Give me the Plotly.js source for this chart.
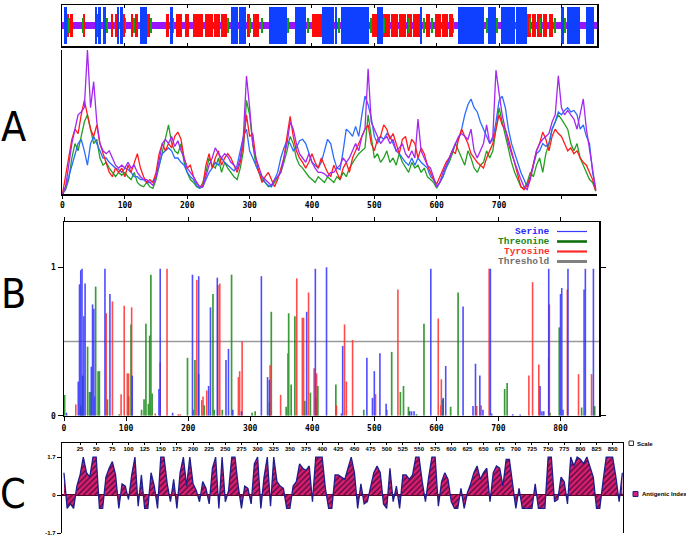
<!DOCTYPE html>
<html><head><meta charset="utf-8">
<script src="https://cdn.plot.ly/plotly-3.0.1.min.js"></script>
<style>html,body{margin:0;padding:0;background:#fff}#chart{width:686px;height:540px}</style>
</head><body><div id="chart"></div>
<script>
// ---------- Panel A: secondary structure strip (residue ranges) ----------
const seqLength = 857;
const helixSeg = [[3,6],[53,55],[58,61],[65,70],[88,90],[93,96],[124,135],[173,176],[271,281],[283,294],[332,359],[373,390],[416,435],[437,440],[447,491],[504,514],[574,576],[635,675],[682,694],[703,725],[728,744],[800,803],[809,829],[840,851]];
const strandSeg = [[8,10],[13,16],[34,36],[54,58],[78,81],[84,88],[94,100],[110,113],[116,120],[135,140],[167,170],[182,191],[197,202],[210,224],[229,240],[243,252],[255,263],[296,300],[306,314],[401,416],[496,503],[515,525],[528,537],[540,550],[553,560],[563,572],[583,589],[597,606],[609,617],[620,626],[744,750],[753,758],[762,768],[771,777],[780,786]];
const turnPos = [11,33,60,72,101,115,142,177,265,301,320,342,361,393,443,494,516,556,580,592,627,680,697,749,766,790,806];

// ---------- Panel A: score profiles (every 5 residues) ----------
const aStep = 5;
const helixScore = [
0,5,12,20,28,35,38,30,20,35,
40,35,30,25,25,22,20,18,17,15,
18,17,15,12,12,10,10,8,8,9,
12,20,28,30,32,30,25,25,22,20,
15,12,10,6,4,5,10,15,18,22,
20,25,22,20,18,16,20,30,40,45,
30,25,20,15,12,8,6,5,10,15,
25,32,37,35,30,32,37,38,35,28,
22,20,18,22,30,38,35,25,18,17,
30,45,43,40,47,40,55,68,62,53,
40,35,40,38,42,40,35,30,28,25,
22,20,25,20,25,22,20,18,12,10,
5,8,12,18,25,30,35,38,45,55,
62,66,60,57,50,45,40,35,38,50,
65,68,60,45,35,28,22,15,10,5,
12,20,28,30,35,33,35,45,50,57,
55,58,60,57,58,55,45,48,40,35,
15,3];
const strandScore = [
0,12,25,38,45,42,55,65,55,45,
40,48,35,28,22,15,12,18,15,18,
12,20,15,22,28,18,12,8,10,8,
15,28,35,30,35,32,40,43,38,25,
18,20,12,8,5,6,20,28,18,25,
30,20,25,28,25,20,15,22,35,55,
40,42,25,15,8,12,15,10,5,10,
18,25,40,54,40,30,25,22,18,22,
28,22,18,25,20,15,12,20,15,10,
18,22,15,25,30,35,40,45,48,35,
30,38,40,48,45,38,42,35,28,38,
40,30,38,35,25,32,28,20,15,10,
7,12,18,22,25,30,28,38,45,40,
35,28,25,22,20,18,25,30,35,45,
55,48,45,38,30,22,12,5,3,6,
12,22,30,35,43,38,30,40,45,42,
40,35,30,32,28,30,25,22,20,15,
10,2];
const turnScore = [
0,3,10,25,35,30,40,50,55,45,
35,38,25,20,22,18,15,12,15,13,
15,12,10,15,8,6,5,8,5,4,
10,20,30,40,48,35,30,28,35,22,
15,10,8,5,4,8,15,25,20,18,
25,15,22,18,15,12,10,18,30,65,
55,35,20,15,10,8,5,6,8,12,
15,22,30,40,35,25,20,18,15,12,
10,8,12,10,8,12,10,8,12,10,
15,12,18,22,25,28,30,32,55,40,
25,28,22,25,30,22,25,20,28,22,
18,15,22,18,20,15,18,12,10,8,
4,8,12,18,22,28,35,30,25,20,
30,25,18,15,20,22,30,25,30,45,
60,50,40,30,22,15,10,5,4,8,
15,12,20,25,15,28,35,45,50,55,
52,48,45,35,30,35,25,20,15,10,
8,2];
const coilScore = [
0,5,20,35,45,55,57,60,100,60,
78,50,35,30,28,30,25,20,18,20,
18,22,18,20,15,12,10,10,8,6,
12,25,35,38,35,40,33,37,30,25,
18,15,12,8,5,5,12,20,25,32,
28,25,28,26,22,20,17,25,40,82,
60,35,25,18,12,10,8,6,10,12,
15,25,35,50,45,35,28,25,22,28,
22,18,15,15,14,12,15,15,18,20,
25,22,25,30,35,30,40,45,87,50,
45,40,35,38,40,35,38,30,32,35,
28,25,30,25,52,30,25,20,18,12,
5,8,15,20,25,30,35,40,42,40,
38,45,30,25,30,35,48,35,40,86,
70,55,45,35,28,22,15,10,5,3,
10,20,30,35,38,40,42,50,55,82,
60,55,58,55,52,45,55,66,45,30,
15,3];
const aTickVals = [0,100,200,300,400,500,600,700,800];
const aTickText = ['0','100','200','300','400','500','600','700',''];

// ---------- Panel B: phosphorylation site scores ----------
const serinePos = [4,23,25,27,29,31,32,34,44,46,48,49,66,74,110,153,155,175,207,208,217,233,236,247,261,265,272,286,318,328,331,391,405,423,447,449,488,497,500,509,519,520,557,560,564,591,611,615,643,659,663,670,675,687,689,723,735,767,770,773,781,800,802,804,812,838,840,853];
const serineVal = [0.02,0.23,0.885,0.98,0.99,0.27,0.67,0.89,0.33,0.75,0.72,0.13,0.99,0.82,0.27,0.18,0.99,0.02,0.95,0.04,0.94,0.2,0.73,0.93,0.375,0.45,0.04,0.03,0.94,0.26,0.24,0.70,0.99,1.0,0.015,0.47,0.39,0.12,0.30,0.42,0.08,0.04,0.03,0.03,0.03,0.99,0.12,0.335,0.735,0.065,0.35,0.27,0.04,0.99,0.015,0.01,0.008,0.20,0.03,0.03,0.99,0.82,0.86,0.04,0.99,0.85,0.99,0.99];
const threoninePos = [1,27,30,38,41,43,51,55,57,70,89,104,108,125,129,132,136,138,140,142,199,211,217,226,240,242,255,270,303,308,331,334,358,361,362,366,372,388,397,407,409,438,483,528,542,547,555,568,580,610,623,635,710,714,783,798,834,855];
const threonineVal = [0.14,0.07,0.27,0.465,0.16,0.16,0.87,0.30,0.30,0.11,0.01,0.13,0.615,0.04,0.11,0.62,0.08,0.54,0.95,0.15,0.39,0.375,0.28,0.07,0.82,0.04,0.04,0.95,0.02,0.03,0.09,0.70,0.06,0.42,0.69,0.21,0.67,0.10,0.155,0.12,0.20,0.21,0.04,0.43,0.16,0.20,0.06,0.01,0.62,0.11,0.06,0.83,0.18,0.22,0.02,0.595,0.055,0.065];
const tyrosinePos = [19,68,78,92,97,102,104,109,147,155,166,184,187,214,222,224,230,248,251,281,283,287,332,349,375,384,386,394,403,407,439,452,455,465,502,538,603,607,608,665,672,685,749,755,765,781,782,811,829,850];
const tyrosineVal = [0.076,0.69,0.77,0.145,0.74,0.285,0.285,0.73,0.015,0.36,0.99,0.01,0.01,0.915,0.105,0.13,0.17,0.88,0.89,0.26,0.30,0.50,0.34,0.14,0.925,0.66,0.66,0.83,0.32,0.285,0.07,0.615,0.23,0.51,0.145,0.85,0.655,0.07,0.245,0.065,0.07,0.99,0.27,0.90,0.345,0.39,0.75,0.85,0.28,0.28];
const threshold = 0.5;
const bLength = 862;
const bTickVals = [0,100,200,300,400,500,600,700,800];
const bLegendNames = ['Serine','Threonine','Tyrosine','Threshold'];

// ---------- Panel C: antigenic index (every 5 residues) ----------
const cStep = 5;
const antigenicIndex = [
1.0,-0.6,-0.4,-0.6,0.4,0.9,1.7,1.0,0.8,1.7,
1.7,-0.6,-0.6,0.8,1.2,1.5,0.9,-0.6,0.5,0.4,
-0.2,0.9,1.7,-0.5,0.9,-0.6,-0.6,1.0,0.4,-0.6,
1.7,1.7,0.5,-0.3,0.7,-0.6,1.0,1.7,0.4,1.7,
0.5,0.2,-0.3,0.6,0.3,-0.4,1.2,1.7,-0.6,1.7,
-0.3,0.2,1.7,1.7,0.4,-0.6,0.4,0.3,-0.4,1.4,
1.7,-0.6,0.8,1.7,-0.5,1.7,0.6,0.4,0.3,-0.6,
-0.6,0.4,0.6,1.4,1.2,1.1,1.3,-0.3,1.7,1.7,
1.7,0.3,-0.6,-0.6,0.9,0.9,0.8,0.7,1.2,1.7,
1.0,-0.6,0.5,-0.4,-0.3,0.3,1.0,1.3,1.0,-0.4,
-0.6,1.2,-0.3,0.4,-0.6,0.9,0.9,0.7,0.9,1.7,
1.7,0.6,-0.3,0.8,1.7,1.7,-0.5,0.6,1.0,0.7,
-0.3,-0.6,-0.6,0.3,-0.6,0.1,0.5,1.0,1.3,0.7,
1.0,1.2,-0.3,1.0,1.3,1.2,0.4,1.6,1.6,0.5,
-0.6,0.3,-0.6,-0.6,-0.6,-0.6,0.5,-0.6,-0.6,-0.6,
1.7,1.7,-0.3,-0.2,0.8,0.6,-0.4,1.7,1.3,1.7,
1.6,1.4,1.7,1.2,0.8,-0.6,-0.6,0.6,1.7,1.7,
1.7,0.8,-0.3,1.0];
const cTickVals = [25,50,75,100,125,150,175,200,225,250,275,300,325,350,375,400,425,450,475,500,525,550,575,600,625,650,675,700,725,750,775,800,825,850];
const cYTickVals = [-1.7,0,1.7];
const cYTickText = ['-1.7','0','1.7'];
const panelLetters = ['A','B','C'];

// ---------- build ----------
const W = 686, H = 540;
const px = v => v / W, py = v => 1 - v / H;
const tickFont = {family:'DejaVu Sans Mono, monospace', size:8, color:'#000', weight:'bold'};
const tinyFont = {family:'Liberation Sans, Arial, sans-serif', size:6, color:'#000', weight:'bold'};

function segBars(segs, half, color) {
  return {type:'bar', x:segs.map(s => (s[0]+s[1])/2), y:segs.map(() => 2*half),
    base:segs.map(() => -half), width:segs.map(s => s[1]-s[0]+1),
    marker:{color:color, line:{width:0}}, xaxis:'x', yaxis:'y', hoverinfo:'skip'};
}
const traces = [];
traces.push(segBars([[0, seqLength]], 0.18, '#9b14ff'));
traces.push(segBars(strandSeg, 0.56, '#ff0a0a'));
traces.push(segBars(turnPos.map(p => [p-1, p+1]), 0.36, '#10a010'));
traces.push(segBars(helixSeg, 0.88, '#0f40ff'));

const aPos = helixScore.map((_, i) => i * aStep);
[[turnScore,'#22a022'],[helixScore,'#2a6cff'],[strandScore,'#ff1c1c'],[coilScore,'#a428f0']].forEach(([vals, col]) => {
  traces.push({type:'scatter', mode:'lines', x:aPos, y:vals, line:{color:col, width:1.3},
    xaxis:'x2', yaxis:'y2', hoverinfo:'skip'});
});

function stems(pos, vals, col, w) {
  const x = [], y = [];
  pos.forEach((p, i) => { x.push(p, p, null); y.push(0, vals[i], null); });
  return {type:'scatter', mode:'lines', x:x, y:y, line:{color:col, width:w}, opacity:0.85,
    xaxis:'x3', yaxis:'y3', hoverinfo:'skip'};
}
traces.push({type:'scatter', mode:'lines', x:[0, bLength], y:[threshold, threshold],
  line:{color:'#9a9a9a', width:1.5}, xaxis:'x3', yaxis:'y3', hoverinfo:'skip'});
traces.push(stems(threoninePos, threonineVal, '#1a8c1a', 1.7));
traces.push(stems(tyrosinePos, tyrosineVal, '#ff2e2e', 1.6));
traces.push(stems(serinePos, serineVal, '#2f2fff', 1.6));

const cPos = antigenicIndex.map((_, i) => i * cStep);
traces.push({type:'scatter', mode:'lines', x:cPos, y:antigenicIndex, fill:'tozeroy',
  fillpattern:{shape:'/', bgcolor:'#d81e6e', fgcolor:'#4a0a3c', size:4, solidity:0.3},
  line:{color:'#1e1e8c', width:1.3}, xaxis:'x4', yaxis:'y4', hoverinfo:'skip'});

const legendColors = ['#2a2aff','#1a8a1a','#ff3030','#707070'];
const legendLineColors = ['#3a3aff','#107010','#ff2a2a','#808080'];
const legendLineWidths = [1.2, 2.6, 2.2, 3];
const legendY = [231.5, 241.5, 251.5, 261.5];

const annotations = [];
const shapes = [];
bLegendNames.forEach((n, i) => {
  annotations.push({xref:'paper', yref:'paper', x:px(551), y:py(legendY[i]), xanchor:'right', yanchor:'middle',
    text:n, showarrow:false, borderpad:0,
    font:{family:'Liberation Mono, DejaVu Sans Mono, monospace', size:9.5, weight:'bold', color:legendColors[i]}});
  shapes.push({type:'line', xref:'paper', yref:'paper', x0:px(557), x1:px(587), y0:py(legendY[i]), y1:py(legendY[i]),
    line:{color:legendLineColors[i], width:legendLineWidths[i]}});
});
const letterY = [127, 294, 494];
panelLetters.forEach((L, i) => {
  annotations.push({xref:'paper', yref:'paper', x:px(13), y:py(letterY[i]), xanchor:'center', yanchor:'middle',
    text:L, showarrow:false, font:{family:'Liberation Sans Narrow, DejaVu Sans Condensed, Arial Narrow, sans-serif', size:41, color:'#000'}});
});
// C legend
shapes.push({type:'rect', xref:'paper', yref:'paper', x0:px(629), x1:px(633.5), y0:py(445.5), y1:py(441), line:{color:'#333', width:1}, fillcolor:'#fff'});
shapes.push({type:'rect', xref:'paper', yref:'paper', x0:px(633), x1:px(638), y0:py(496.5), y1:py(491.5), line:{color:'#1e1e8c', width:1}, fillcolor:'#d81e6e'});
annotations.push({xref:'paper', yref:'paper', x:px(635), y:py(443.5), xanchor:'left', yanchor:'middle', text:'Scale', showarrow:false, font:tinyFont});
annotations.push({xref:'paper', yref:'paper', x:px(639.5), y:py(494), xanchor:'left', yanchor:'middle', text:'Antigenic Index', showarrow:false, font:tinyFont});

const noGrid = {showgrid:false, zeroline:false, fixedrange:true};
const layout = {
  width:W, height:H, margin:{l:0, r:0, t:0, b:0}, showlegend:false,
  paper_bgcolor:'#fff', plot_bgcolor:'rgba(0,0,0,0)', barmode:'overlay', bargap:0,
  xaxis:Object.assign({domain:[px(62), px(597)], range:[-0.8, seqLength], anchor:'y', showline:true, mirror:'ticks',
    linecolor:'#000', linewidth:1.5, ticks:'inside', ticklen:3, tickcolor:'#000', tickvals:aTickVals, showticklabels:false}, noGrid),
  yaxis:Object.assign({domain:[py(46), py(5)], range:[-1, 1], anchor:'x', showline:true, mirror:true,
    linecolor:'#000', linewidth:1.5, showticklabels:false, ticks:''}, noGrid),
  xaxis2:Object.assign({domain:[px(62), px(597)], range:[-0.8, seqLength], anchor:'y2', showline:true,
    linecolor:'#000', linewidth:1.5, ticks:'outside', ticklen:3, tickcolor:'#000', tickvals:aTickVals, ticktext:aTickText, tickfont:tickFont}, noGrid),
  yaxis2:Object.assign({domain:[py(194), py(50)], range:[0, 100], anchor:'x2', showline:true,
    linecolor:'#000', linewidth:1.5, showticklabels:false, ticks:''}, noGrid),
  xaxis3:Object.assign({domain:[px(64), px(599)], range:[0, bLength], anchor:'y3', showline:true, mirror:'ticks',
    linecolor:'#000', linewidth:1.5, ticks:'outside', ticklen:4, tickcolor:'#000', tickvals:bTickVals, tickfont:tickFont}, noGrid),
  yaxis3:Object.assign({domain:[py(415.7), py(222.3)], range:[0, 1.303], anchor:'x3', showline:true, mirror:'ticks',
    linecolor:'#000', linewidth:1.5, ticks:'outside', ticklen:5, tickcolor:'#000', tickvals:[0, 1], ticktext:['0','1'], tickfont:tickFont}, noGrid),
  xaxis4:Object.assign({domain:[px(62), px(623)], range:[-3, 866], anchor:'y4', side:'top', showline:true,
    linecolor:'#000', linewidth:1.2, ticks:'inside', ticklen:2, tickcolor:'#000', tickvals:cTickVals,
    ticklabelposition:'inside', tickfont:tinyFont}, noGrid),
  yaxis4:{domain:[py(533), py(443)], range:[-1.7, 2.33], anchor:'x4', showline:true, mirror:true,
    linecolor:'#000', linewidth:1.2, ticks:'outside', ticklen:4, tickcolor:'#000', tickvals:cYTickVals, ticktext:cYTickText,
    tickfont:tinyFont, showgrid:false, zeroline:true, zerolinecolor:'#5a0a28', zerolinewidth:1.5, fixedrange:true},
  annotations:annotations, shapes:shapes
};
Plotly.newPlot('chart', traces, layout, {staticPlot:true, displayModeBar:false});
</script></body></html>
